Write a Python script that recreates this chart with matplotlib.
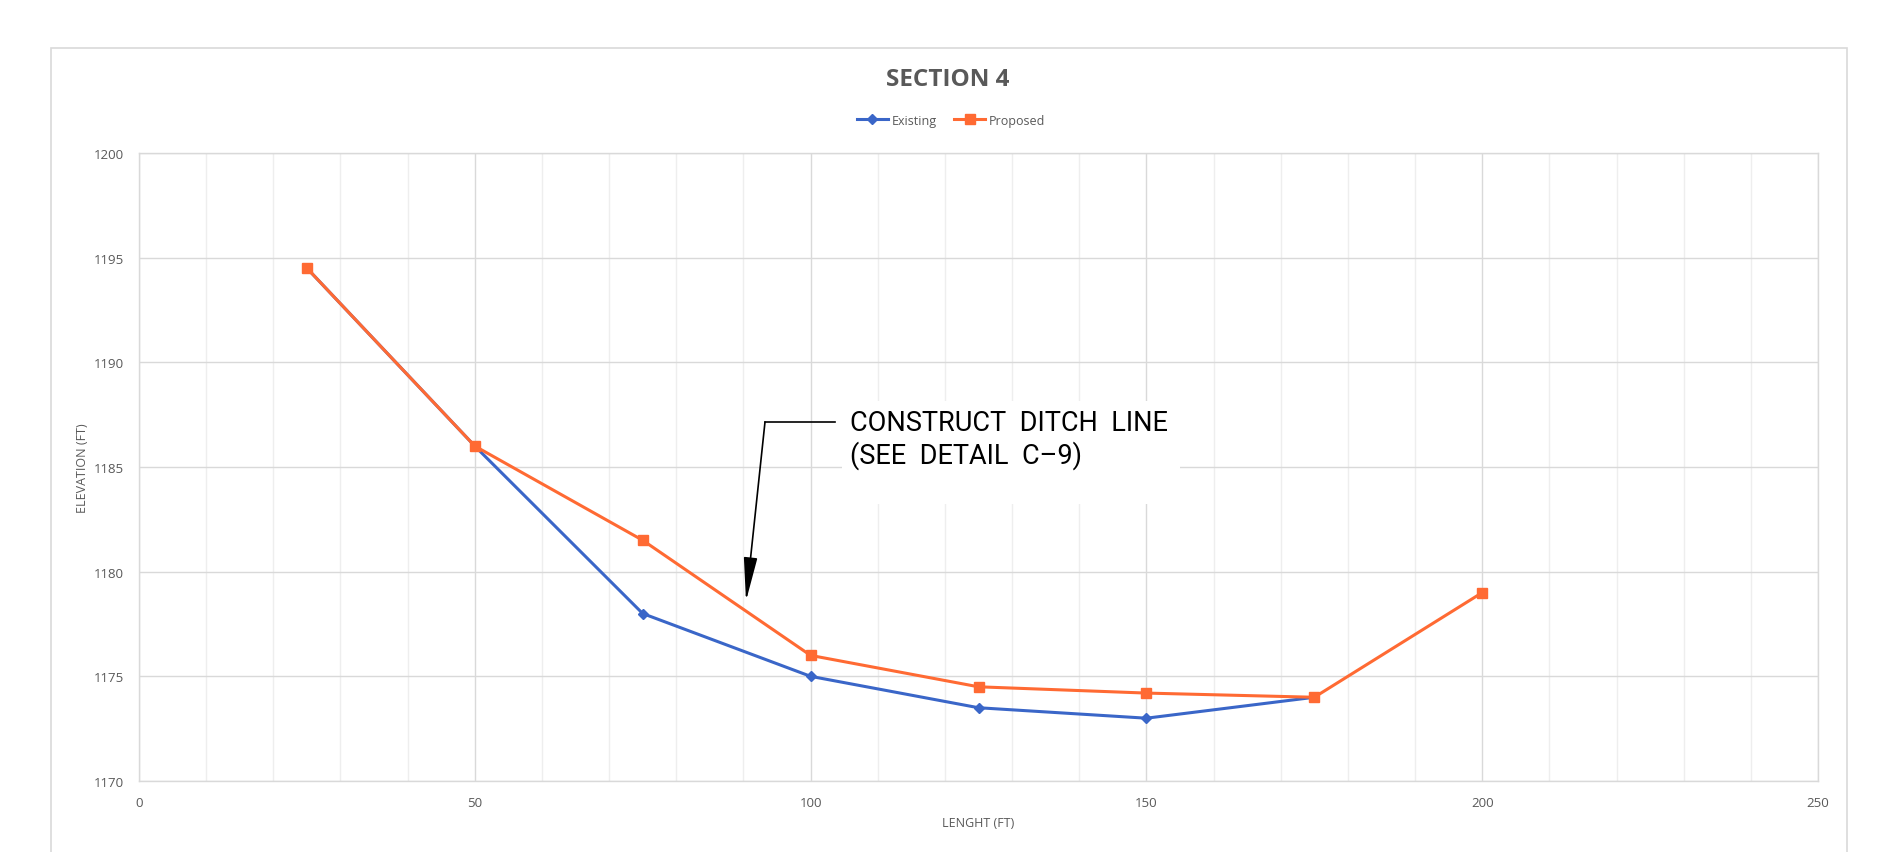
import matplotlib
matplotlib.use("Agg")
import matplotlib.pyplot as plt
from matplotlib.patches import Rectangle
from matplotlib.ticker import MultipleLocator

# ---- data ----
existing_x = [25, 50, 75, 100, 125, 150, 175]
existing_y = [1194.5, 1186, 1178, 1175, 1173.5, 1173, 1174]
proposed_x = [25, 50, 75, 100, 125, 150, 175, 200]
proposed_y = [1194.5, 1186, 1181.5, 1176, 1174.5, 1174.2, 1174, 1179]
series_names = ["Existing", "Proposed"]
title = "SECTION 4"
x_label = "LENGHT (FT)"
y_label = "ELEVATION (FT)"
note_lines = ["CONSTRUCT  DITCH  LINE", "(SEE  DETAIL  C\u20139)"]

W, H = 1901, 853
DPI = 100
fig = plt.figure(figsize=(W / DPI, H / DPI), dpi=DPI)
fig.patch.set_facecolor("white")

def fx(px):
    return px / W

def fy(py):
    return 1 - py / H

TXT = "#595959"
GRID = "#D9D9D9"
MINOR = "#EEEEEE"
BLUE = "#3A66C8"
ORANGE = "#FF6A33"
FONT = ["Open Sans", "DejaVu Sans"]

# outer chart border
fig.patches.append(Rectangle((51, -10), 1796, H - 49 + 10, transform=None,
                             fill=False, edgecolor=GRID, linewidth=1.2))

left, right, top, bottom = 139, 1818, 154, 782
ax = fig.add_axes([fx(left), fy(bottom), fx(right) - fx(left), fy(top) - fy(bottom)])
ax.set_xlim(0, 250)
ax.set_ylim(1170, 1200)
ax.xaxis.set_major_locator(MultipleLocator(50))
ax.xaxis.set_minor_locator(MultipleLocator(10))
ax.yaxis.set_major_locator(MultipleLocator(5))
ax.set_axisbelow(True)
ax.grid(which="major", color=GRID, linewidth=1.0)
ax.grid(which="minor", axis="x", color=MINOR, linewidth=1.0)
ax.tick_params(which="both", length=0)
ax.tick_params(axis="y", pad=11, labelsize=9.5, labelcolor=TXT)
ax.tick_params(axis="x", pad=11, labelsize=9.5, labelcolor=TXT)
for lab in ax.get_xticklabels() + ax.get_yticklabels():
    lab.set_family(FONT)
for s in ax.spines.values():
    s.set_color(GRID)
    s.set_linewidth(1.0)

ax.plot(existing_x, existing_y, color=BLUE, linewidth=2.2, marker="D",
        markersize=5.5, label=series_names[0], zorder=3)
ax.plot(proposed_x, proposed_y, color=ORANGE, linewidth=2.2, marker="s",
        markersize=6.5, label=series_names[1], zorder=4)

ax.set_xlabel(x_label, fontsize=9, color=TXT, family=FONT, va="center")
ax.set_ylabel(y_label, fontsize=9, color=TXT, family=FONT, va="center")
ax.xaxis.set_label_coords((978 - left) / (right - left), (bottom - 824) / (bottom - top))
ax.yaxis.set_label_coords((82 - left) / (right - left), 0.5)

fig.text(fx(948), fy(80), title, ha="center", va="center", fontsize=17.5,
         fontweight="bold", color=TXT, family=FONT)

fig.legend(loc="center", bbox_to_anchor=(fx(951), fy(121)), ncol=2, frameon=False,
           handlelength=2.5, columnspacing=1.4, handletextpad=0.3,
           prop={"family": FONT, "size": 9}, labelcolor=TXT)

# white box behind the note
ax.add_patch(Rectangle((842, H - 505), 338, 103, transform=None,
                       facecolor="white", edgecolor="none", zorder=2))

NOTE_FONT = ["Roboto", "DejaVu Sans"]
fig.text(fx(850), fy(431), note_lines[0], ha="left", va="baseline",
         fontsize=19.5, color="black", family=NOTE_FONT)
fig.text(fx(850), fy(464), note_lines[1], ha="left", va="baseline",
         fontsize=19.5, color="black", family=NOTE_FONT)

# leader
ax.plot([765, 835], [H - 423, H - 423], transform=None, color="black",
        linewidth=1.2, zorder=5, clip_on=False)
ax.annotate("", xy=(746, H - 602), xycoords="figure pixels",
            xytext=(765, H - 423), textcoords="figure pixels",
            arrowprops=dict(arrowstyle="-|>,head_length=2.7,head_width=0.42",
                            color="black", lw=1.2, shrinkA=0, shrinkB=0,
                            mutation_scale=10),
            zorder=5)

fig.savefig("out.png", dpi=DPI)
